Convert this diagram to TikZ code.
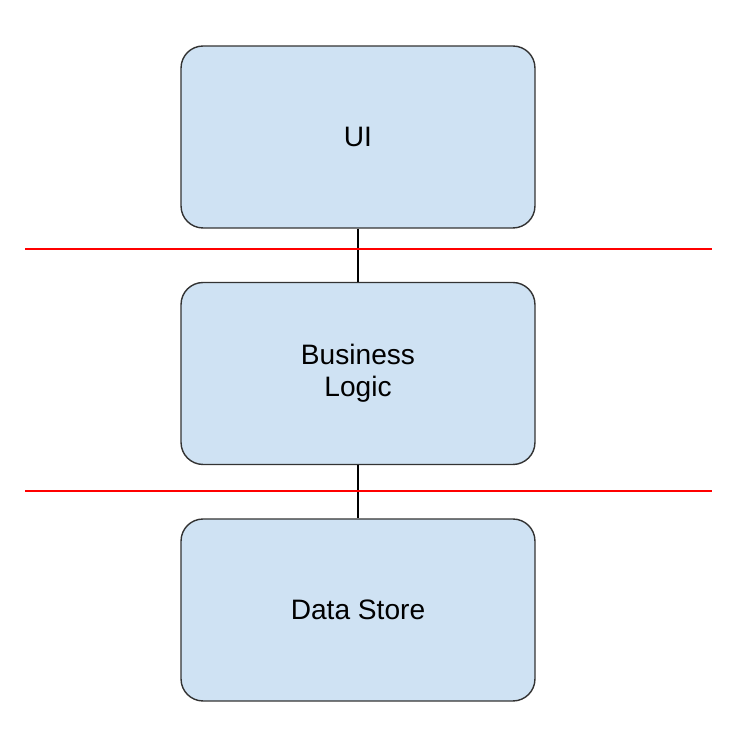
\documentclass[tikz,border=0pt]{standalone}
\usepackage{fontspec}
\setmainfont{Liberation Sans}
\definecolor{layerfill}{HTML}{CFE2F3}
\definecolor{layerdraw}{HTML}{333333}
\tikzset{
  layerbox/.style={rectangle, rounded corners=0.44cm, draw=layerdraw, line width=0.8pt, fill=layerfill, minimum width=7.08cm, minimum height=3.64cm, align=center, font=\fontsize{16}{18.2}\selectfont},
  layerlink/.style={draw=black, line width=0.6pt},
  cutline/.style={draw=red, line width=0.6pt}
}
\begin{document}
\begin{tikzpicture}[x=0.02cm, y=-0.02cm]
\useasboundingbox (0,0) rectangle (752,742);
\node[layerbox] at (358, 137) (ui) {UI};
\node[layerbox] at (358, 373.5) (logic) {Business\\Logic};
\node[layerbox] at (358, 610) (store) {Data Store};
\draw[layerlink] (ui) -- (logic);
\draw[layerlink] (logic) -- (store);
\coordinate (cut1l) at (25, 249);
\coordinate (cut1r) at (712, 249);
\coordinate (cut2l) at (25, 491);
\coordinate (cut2r) at (712, 491);
\draw[cutline] (cut1l) -- (cut1r);
\draw[cutline] (cut2l) -- (cut2r);
\end{tikzpicture}
\end{document}
